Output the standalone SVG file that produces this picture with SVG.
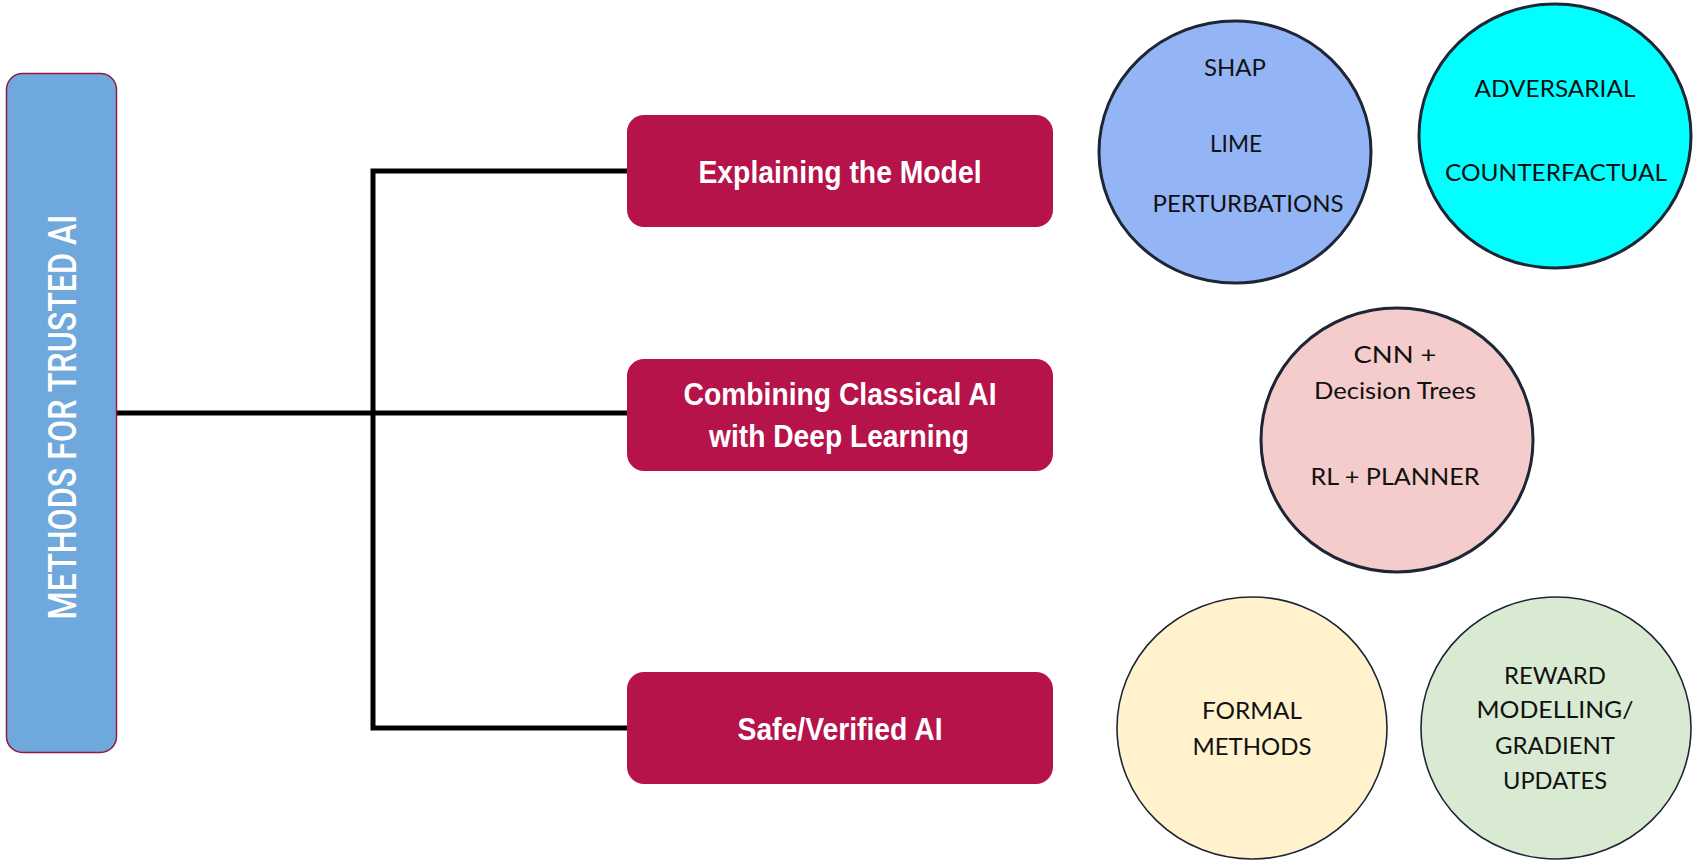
<svg xmlns="http://www.w3.org/2000/svg" width="1694" height="863" viewBox="0 0 1694 863">
<style>
.conn{fill:none;stroke:#000;stroke-width:5;stroke-linejoin:miter;stroke-linecap:butt}
.cat{fill:#b5134a}
.catt{font-family:"Liberation Sans",Arial,sans-serif;font-weight:bold;font-size:32px;fill:#fff;text-anchor:middle}
.ct{font-family:Lato,"Noto Sans",sans-serif;font-size:24px;fill:#111;text-anchor:middle}
.thick{stroke:#1e2535;stroke-width:3}
.thin{stroke:#1e2535;stroke-width:1.6}
</style>
<rect width="1694" height="863" fill="#fff"/>
<g id="connectors">
<path class="conn" d="M117,413 H627"/>
<path class="conn" d="M627,171 H373 V728 H627"/>
</g>
<g id="root">
<rect x="6.5" y="73.5" width="110" height="679" rx="16" fill="#6fa8dc" stroke="#8e1b40" stroke-width="1.5"/>
<text transform="translate(76,417) rotate(-90)" x="0" y="0" text-anchor="middle" font-family="Roboto,'Liberation Sans',Arial,sans-serif" font-weight="500" font-size="39" fill="#fff" textLength="405" lengthAdjust="spacingAndGlyphs">METHODS FOR TRUSTED AI</text>
</g>
<g id="explaining">
<rect class="cat" x="627" y="115" width="426" height="112" rx="17"/>
<text class="catt" x="840" y="183" textLength="283" lengthAdjust="spacingAndGlyphs">Explaining the Model</text>
</g>
<g id="combining">
<rect class="cat" x="627" y="359" width="426" height="112" rx="17"/>
<text class="catt" x="840" y="405" textLength="313" lengthAdjust="spacingAndGlyphs">Combining Classical AI</text>
<text class="catt" x="839" y="447" textLength="260" lengthAdjust="spacingAndGlyphs">with Deep Learning</text>
</g>
<g id="safe">
<rect class="cat" x="627" y="672" width="426" height="112" rx="17"/>
<text class="catt" x="840" y="740" textLength="205" lengthAdjust="spacingAndGlyphs">Safe/Verified AI</text>
</g>
<g id="explain-methods">
<ellipse class="thick" cx="1235" cy="152" rx="136" ry="131" fill="#93b5f5"/>
<text class="ct" x="1235" y="76" textLength="62" lengthAdjust="spacingAndGlyphs">SHAP</text>
<text class="ct" x="1236" y="152" textLength="52" lengthAdjust="spacingAndGlyphs">LIME</text>
<text class="ct" x="1248" y="212" textLength="191" lengthAdjust="spacingAndGlyphs">PERTURBATIONS</text>
</g>
<g id="adversarial">
<ellipse class="thick" cx="1555" cy="136" rx="136" ry="132" fill="#00ffff"/>
<text class="ct" x="1555" y="97" textLength="161" lengthAdjust="spacingAndGlyphs">ADVERSARIAL</text>
<text class="ct" x="1556" y="181" textLength="222" lengthAdjust="spacingAndGlyphs">COUNTERFACTUAL</text>
</g>
<g id="hybrid">
<ellipse class="thick" cx="1397" cy="440" rx="136" ry="132" fill="#f4cccc"/>
<text class="ct" x="1395" y="363" textLength="83" lengthAdjust="spacingAndGlyphs">CNN +</text>
<text class="ct" x="1395" y="399" textLength="162" lengthAdjust="spacingAndGlyphs">Decision Trees</text>
<text class="ct" x="1395" y="485" textLength="169" lengthAdjust="spacingAndGlyphs">RL + PLANNER</text>
</g>
<g id="formal">
<ellipse class="thin" cx="1252" cy="728" rx="135" ry="131" fill="#fff2cc"/>
<text class="ct" x="1252" y="719" textLength="100" lengthAdjust="spacingAndGlyphs">FORMAL</text>
<text class="ct" x="1252" y="755" textLength="119" lengthAdjust="spacingAndGlyphs">METHODS</text>
</g>
<g id="reward">
<ellipse class="thin" cx="1556" cy="728" rx="135" ry="131" fill="#d9ead3"/>
<text class="ct" x="1555" y="684" textLength="102" lengthAdjust="spacingAndGlyphs">REWARD</text>
<text class="ct" x="1555" y="718" textLength="157" lengthAdjust="spacingAndGlyphs">MODELLING/</text>
<text class="ct" x="1555" y="754" textLength="120" lengthAdjust="spacingAndGlyphs">GRADIENT</text>
<text class="ct" x="1555" y="789" textLength="104" lengthAdjust="spacingAndGlyphs">UPDATES</text>
</g>
</svg>
